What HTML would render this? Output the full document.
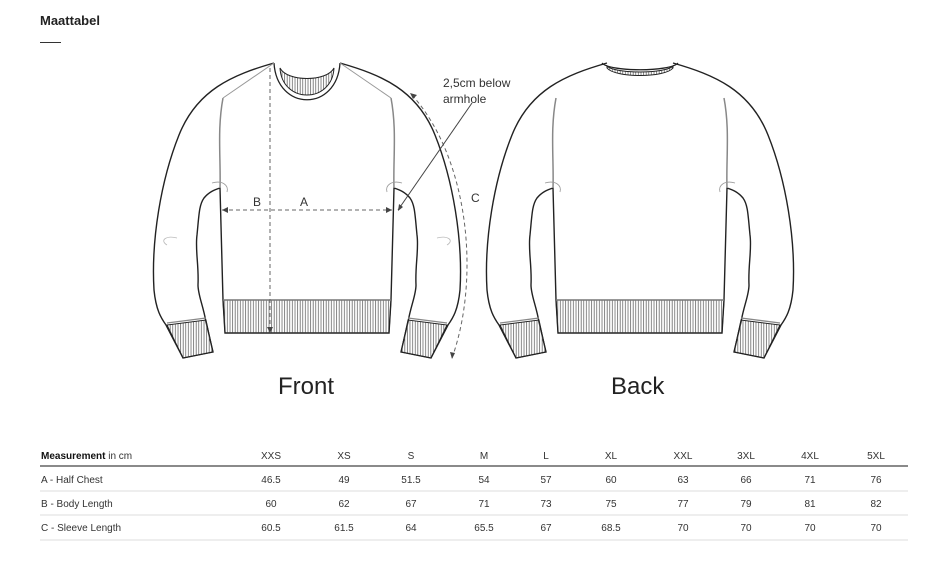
<!DOCTYPE html>
<html><head><meta charset="utf-8"><style>
body{margin:0;background:#fff;width:937px;height:562px;overflow:hidden;font-family:"Liberation Sans",sans-serif;color:#222}
</style></head><body>
<div style="position:absolute;left:40px;top:13px;font-size:13px;font-weight:bold;color:#222">Maattabel</div>
<div style="position:absolute;left:40px;top:42px;width:21px;height:1px;background:#333"></div>
<svg width="937" height="562" style="position:absolute;left:0;top:0">
<defs>
<pattern id="rib" width="2.6" height="10" patternUnits="userSpaceOnUse"><line x1="1" y1="0" x2="1" y2="10" stroke="#555" stroke-width="0.7"/></pattern>
<g id="half">
<path d="M-33,63 C-75,75 -110,90 -128,135 C-146,180 -156,240 -153,290 C-151,310 -146,318 -141,325 L-124,358 L-94,352 L-101,322 C-104,305 -109,295 -109,285 C-108,265 -112,250 -110,235 C-108,215 -108,205 -103,198 C-98,192 -93,190 -87,188 L-84,300 L-82,333 L0,333" fill="none" stroke="#222" stroke-width="1.4"/>
<path d="M-84,98 C-90,130 -86,160 -87,188" fill="none" stroke="#888" stroke-width="1.5"/>
<path d="M-140,323 L-101,318" fill="none" stroke="#888" stroke-width="1.3"/>
<path d="M-140,325 L-124,358 L-94,352 L-101,320 Z" fill="url(#rib)" stroke="#222" stroke-width="1"/>
<path d="M-95,183 C-85,180 -78,185 -80,192" fill="none" stroke="#999" stroke-width="0.8"/>
</g>
</defs>
<g transform="translate(307,0)"><use href="#half"/><use href="#half" transform="scale(-1,1)"/>
<path d="M-84,300 L84,300 L82,333 L-82,333 Z" fill="url(#rib)" stroke="#222" stroke-width="1"/>
<line x1="-84" y1="300" x2="84" y2="300" stroke="#777" stroke-width="1.5"/>
<path d="M-33,63 C-30,112 30,112 33,63" fill="none" stroke="#222" stroke-width="1.3"/>
<path d="M-27,68 C-20,82 20,82 27,68 C25,104 -25,104 -27,68 Z" fill="url(#rib)" stroke="#222" stroke-width="1"/>
<path d="M-33,63 L-84,98 M33,63 L84,98" fill="none" stroke="#999" stroke-width="1"/>
<path d="M-130,238 C-140,235 -148,240 -140,245 M130,238 C140,235 148,240 140,245" fill="none" stroke="#bbb" stroke-width="0.8"/>
</g>
<g transform="translate(640,0)"><use href="#half"/><use href="#half" transform="scale(-1,1)"/>
<path d="M-84,300 L84,300 L82,333 L-82,333 Z" fill="url(#rib)" stroke="#222" stroke-width="1"/>
<line x1="-84" y1="300" x2="84" y2="300" stroke="#777" stroke-width="1.5"/>
<path d="M-38,63 C-30,72 30,72 38,63" fill="none" stroke="#222" stroke-width="1.3"/>
<path d="M-33,68 C-25,78 25,78 33,68 L33,66 C25,74 -25,74 -33,66 Z" fill="url(#rib)" stroke="#222" stroke-width="1"/>
</g>
<g stroke="#666" stroke-width="1" stroke-dasharray="4,3" fill="none">
<line x1="222" y1="210" x2="392" y2="210"/>
<line x1="270" y1="68" x2="270" y2="332"/>
<path d="M412,95 C470,160 480,280 452,358"/>
</g>
<line x1="472" y1="103" x2="398" y2="210" stroke="#444" stroke-width="1"/>
<g fill="#444"><path d="M222,210 l6,-3 v6z"/><path d="M392,210 l-6,-3 v6z"/><path d="M270,333 l-3,-6 h6z"/><path d="M398,211 l1,-7 4,3z"/><path d="M410,93 l7,2 -4,4z"/><path d="M452,359 l-2,-7 5,1z"/></g>
<g font-family="Liberation Sans,sans-serif" fill="#333">
<text x="253" y="206" font-size="12">B</text><text x="300" y="206" font-size="12">A</text>
<text x="471" y="202" font-size="12">C</text>
<text x="443" y="87" font-size="12">2,5cm below</text><text x="443" y="103" font-size="12">armhole</text>
<text x="278" y="394" font-size="24" fill="#222">Front</text>
<text x="611" y="394" font-size="24" fill="#222">Back</text>
</g>
<line x1="40" y1="466" x2="908" y2="466" stroke="#444" stroke-width="1.2"/>
<g stroke="#ddd"><line x1="40" y1="491" x2="908" y2="491"/><line x1="40" y1="515" x2="908" y2="515"/><line x1="40" y1="540" x2="908" y2="540"/></g>
<g font-family="Liberation Sans,sans-serif" font-size="10" fill="#333">
<text x="41" y="459"><tspan font-weight="bold" fill="#111">Measurement</tspan> in cm</text>
<text x="41" y="483">A - Half Chest</text><text x="41" y="507">B - Body Length</text><text x="41" y="531">C - Sleeve Length</text>
<g text-anchor="middle">
<text x="271" y="459">XXS</text><text x="344" y="459">XS</text><text x="411" y="459">S</text><text x="484" y="459">M</text><text x="546" y="459">L</text><text x="611" y="459">XL</text><text x="683" y="459">XXL</text><text x="746" y="459">3XL</text><text x="810" y="459">4XL</text><text x="876" y="459">5XL</text>
<text x="271" y="483">46.5</text><text x="344" y="483">49</text><text x="411" y="483">51.5</text><text x="484" y="483">54</text><text x="546" y="483">57</text><text x="611" y="483">60</text><text x="683" y="483">63</text><text x="746" y="483">66</text><text x="810" y="483">71</text><text x="876" y="483">76</text>
<text x="271" y="507">60</text><text x="344" y="507">62</text><text x="411" y="507">67</text><text x="484" y="507">71</text><text x="546" y="507">73</text><text x="611" y="507">75</text><text x="683" y="507">77</text><text x="746" y="507">79</text><text x="810" y="507">81</text><text x="876" y="507">82</text>
<text x="271" y="531">60.5</text><text x="344" y="531">61.5</text><text x="411" y="531">64</text><text x="484" y="531">65.5</text><text x="546" y="531">67</text><text x="611" y="531">68.5</text><text x="683" y="531">70</text><text x="746" y="531">70</text><text x="810" y="531">70</text><text x="876" y="531">70</text>
</g></g>
</svg>
</body></html>
